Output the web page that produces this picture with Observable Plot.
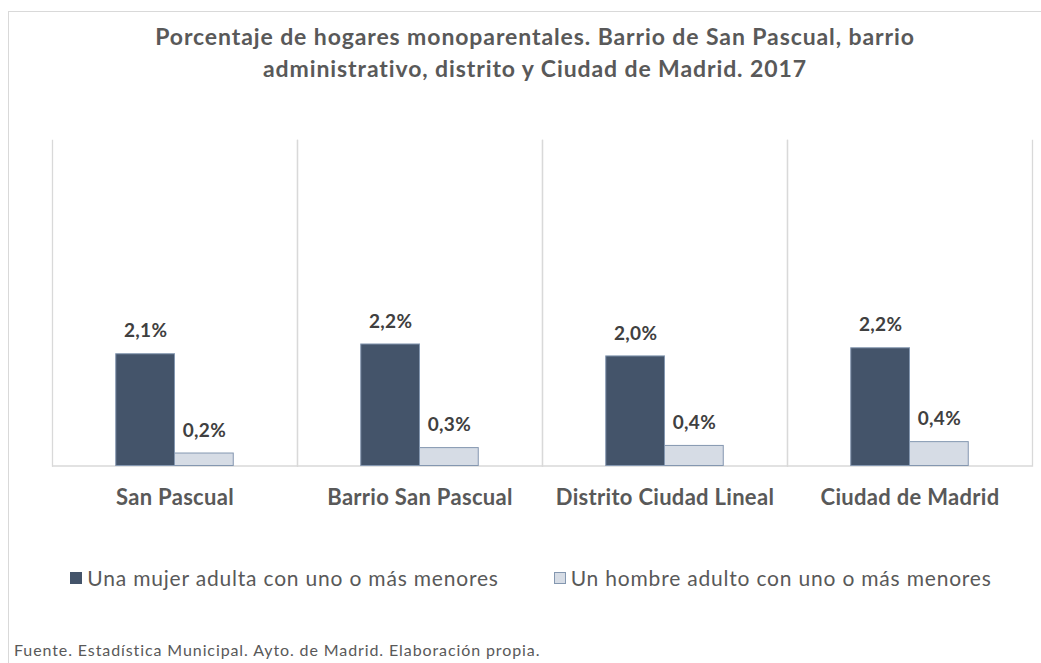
<!DOCTYPE html>
<html>
<head>
<meta charset="utf-8">
<script src="https://cdn.jsdelivr.net/npm/d3@7"></script>
<script src="https://cdn.jsdelivr.net/npm/@observablehq/plot@0.6"></script>
<style>
  html, body { margin: 0; padding: 0; background: #fff; overflow: hidden; width: 1041px; height: 663px; }
  body { position: relative; font-family: Lato, "Open Sans", sans-serif; }
  #border { position: absolute; left: 8px; top: 11px; width: 1080px; height: 720px; border: 1.5px solid #d9d9d9; box-sizing: border-box; }
  #title { position: absolute; left: 0; top: 20px; width: 1070px; text-align: center; font-weight: bold; font-size: 23px; letter-spacing: 0.9px; line-height: 32px; color: #595959; }
  #chart { position: absolute; left: 0; top: 0; }
  #legend { position: absolute; left: 0; top: 564px; width: 1062px; display: flex; justify-content: center; gap: 55px; font-size: 21px; letter-spacing: 0.8px; color: #595959; line-height: 28px; }
  .item { display: flex; align-items: center; gap: 5px; }
  .sw { width: 12px; height: 12px; box-sizing: border-box; border: 1px solid #8497b0; }
  #footer { position: absolute; left: 14px; top: 640px; font-size: 16px; letter-spacing: 0.9px; color: #595959; }
</style>
</head>
<body>
<div id="border"></div>
<div id="title">Porcentaje de hogares monoparentales. Barrio de San Pascual, barrio<br>administrativo, distrito y Ciudad de Madrid. 2017</div>
<div id="chart"></div>
<div id="legend"></div>
<div id="footer">Fuente. Estadística Municipal. Ayto. de Madrid. Elaboración propia.</div>
<script>
const categories = ["San Pascual", "Barrio San Pascual", "Distrito Ciudad Lineal", "Ciudad de Madrid"];
const series = ["Una mujer adulta con uno o más menores", "Un hombre adulto con uno o más menores"];
const mujer = [2.06, 2.24, 2.02, 2.17];
const hombre = [0.23, 0.33, 0.37, 0.44];
const colors = ["#44546a", "#d6dce5"];

const rows = [];
categories.forEach((c, i) => {
  rows.push({cat: c, serie: series[0], value: mujer[i]});
  rows.push({cat: c, serie: series[1], value: hombre[i]});
});
const fmt = v => d3.format(".1f")(v).replace(".", ",") + "%";

const plot = Plot.plot({
  width: 1041,
  height: 520,
  marginLeft: 50,
  marginRight: 8,
  marginTop: 140,
  marginBottom: 54.5,
  style: {fontFamily: "Lato, 'Open Sans', sans-serif", fontSize: "22px", fontWeight: "bold", color: "#595959", background: "transparent", letterSpacing: "0.3px"},
  fx: {domain: categories, padding: 0, label: null},
  x: {domain: series, paddingInner: 0, paddingOuter: 1.085, axis: null, round: false},
  y: {domain: [0, 6], axis: null},
  color: {domain: series, range: colors},
  marks: [
    Plot.frame({anchor: "left", stroke: "#d9d9d9", strokeWidth: 1.3}),
    Plot.frame({anchor: "right", stroke: "#d9d9d9", strokeWidth: 1.3}),
    Plot.ruleY([0], {stroke: "#d9d9d9", strokeWidth: 1.5}),
    Plot.barY(rows, {fx: "cat", x: "serie", y: "value", fill: "serie", stroke: "#8497b0", strokeWidth: 1}),
    Plot.text(rows, {fx: "cat", x: "serie", y: "value", text: d => fmt(d.value), dy: -23, fill: "#404040", fontSize: 19, fontWeight: "bold", style: "letter-spacing:0.5px"}),
    Plot.axisFx({anchor: "bottom", tickSize: 0, tickPadding: 23, label: null, fontSize: 22})
  ]
});
document.getElementById("chart").appendChild(plot);

const legend = document.getElementById("legend");
series.forEach((s, i) => {
  const item = document.createElement("div");
  item.className = "item";
  const sw = document.createElement("span");
  sw.className = "sw";
  sw.style.background = colors[i];
  if (i === 0) sw.style.borderColor = "#44546a";
  const t = document.createElement("span");
  t.textContent = s;
  item.appendChild(sw);
  item.appendChild(t);
  legend.appendChild(item);
});
</script>
</body>
</html>
